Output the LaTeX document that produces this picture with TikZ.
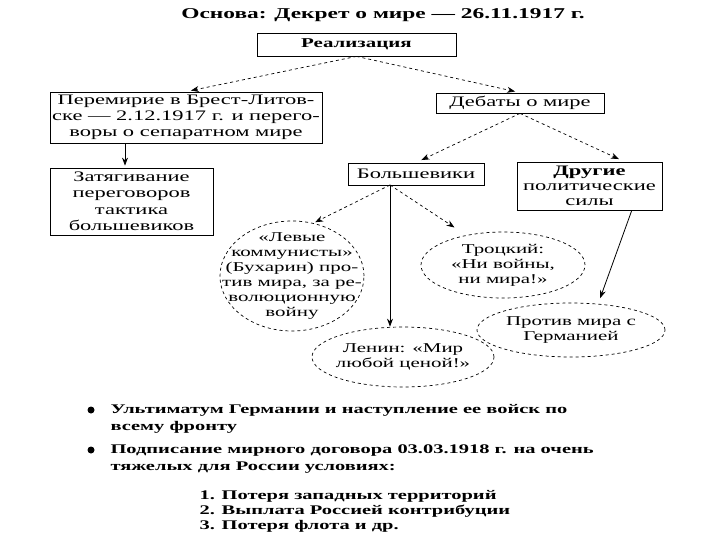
\documentclass[tikz,border=0pt]{standalone}
\usepackage{fontspec}
\setmainfont{Liberation Serif}[FakeStretch=1.55]
\newfontfamily\shirokij{Liberation Serif}[FakeStretch=1.56]

\usetikzlibrary{shapes.geometric, arrows.meta}

\begin{document}
\begin{tikzpicture}[
    x=1pt, y=-1pt,   % coordinate in pixel, asse y verso il basso
    ramka/.style={draw=black, line width=0.8pt, align=center, inner sep=0pt, font=\fontsize{14.5}{16}\selectfont},
    oval/.style={draw=black, dashed, line width=0.7pt, ellipse, inner sep=0pt},
    tekst/.style={align=center, font=\fontsize{13.5}{15}\selectfont},
    strelka/.style={-{Stealth[length=8pt, width=6pt]}, line width=0.8pt},
    pstrelka/.style={-{Stealth[length=8pt, width=6pt]}, line width=0.7pt, dashed},
    zagolovok/.style={font=\shirokij\fontsize{15}{17}\selectfont\bfseries},
    punkt/.style={anchor=north west, align=left, font=\fontsize{13.2}{17}\selectfont\bfseries}
]
    \useasboundingbox (0,0) rectangle (720,540);

    % =========================================================================
    % 1. TITOLO E REALIZZAZIONE
    % =========================================================================
    \node[zagolovok] (osnova) at (383,15) {Основа: Декрет о мире — 26.11.1917 г.};

    \node[ramka, minimum width=199, minimum height=23, font=\fontsize{13.5}{16}\selectfont\bfseries] (real) at (356.5,44.5) {Реализация};

    % =========================================================================
    % 2. RAMO SINISTRO: TREGUA
    % =========================================================================
    \node[ramka, minimum width=272, minimum height=51] (peremirie) at (186,117.5)
        {Перемирие в Брест-Литов-\\ске — 2.12.1917 г. и перего-\\воры о сепаратном мире};

    \node[ramka, minimum width=163, minimum height=67, font=\fontsize{14.5}{16.5}\selectfont] (zatyag) at (131.5,201.5)
        {Затягивание\\переговоров\\тактика\\большевиков};

    \draw[pstrelka, shorten >=5pt] (real.south) -- (peremirie.north);
    \draw[strelka, shorten >=2pt] (peremirie.south -| 125,0) -- (zatyag.north -| 125,0);

    % =========================================================================
    % 3. RAMO DESTRO: DIBATTITO
    % =========================================================================
    \node[ramka, minimum width=168, minimum height=20] (debaty) at (520,103) {Дебаты о мире};
    \node[ramka, minimum width=136, minimum height=22] (bolsh) at (416,174) {Большевики};
    \node[ramka, minimum width=145, minimum height=48, font=\fontsize{14.5}{15}\selectfont] (drugie) at (589.5,186)
        {\textbf{Другие}\\политические\\силы};

    \draw[pstrelka, shorten >=5pt] (real.south) -- (debaty.north);
    \draw[pstrelka, shorten >=6pt] (debaty.south) -- (bolsh.north);
    \draw[pstrelka, shorten >=6pt] (debaty.south) -- (drugie.35);

    % Ellissi delle posizioni
    \node[oval, minimum width=144, minimum height=110] (levye) at (292,276) {};
    \node[tekst] at (levye) {«Левые\\коммунисты»\\(Бухарин) про-\\тив мира, за ре-\\волюционную\\войну};

    \node[oval, minimum width=164, minimum height=66] (trockij) at (503,265) {};
    \node[tekst] at (trockij) {Троцкий:\\«Ни войны,\\ни мира!»};

    \node[oval, minimum width=182, minimum height=60] (lenin) at (403,357) {};
    \node[tekst] at (lenin) {Ленин: «Мир\\любой ценой!»};

    \node[oval, minimum width=188, minimum height=54] (protiv) at (571,330) {};
    \node[tekst] at (protiv) {Против мира с\\Германией};

    % Frecce dai bolscevichi
    \coordinate (razvilka) at (390,185);
    \draw[pstrelka, shorten >=2pt] (razvilka) -- (levye.68);
    \draw[pstrelka, shorten >=14pt] (razvilka) -- (trockij.141);
    \draw[strelka] (razvilka) -- (razvilka |- lenin.north);
    \draw[strelka, shorten >=6pt] (drugie.-30) -- (protiv.44);

    % =========================================================================
    % 4. ESITO FINALE
    % =========================================================================
    \fill (91,410) circle [radius=3.5];
    \fill (91,450) circle [radius=3.5];
    \node[punkt] (ultimatum) at (107,401) {Ультиматум Германии и наступление ее войск по\\всему фронту};
    \node[punkt] (dogovor) at (107,441) {Подписание мирного договора 03.03.1918 г. на очень\\тяжелых для России условиях:};
    \node[punkt, font=\fontsize{13.2}{15}\selectfont\bfseries] (usloviya) at (196,487)
        {1. Потеря западных территорий\\2. Выплата Россией контрибуции\\3. Потеря флота и др.};

\end{tikzpicture}
\end{document}
